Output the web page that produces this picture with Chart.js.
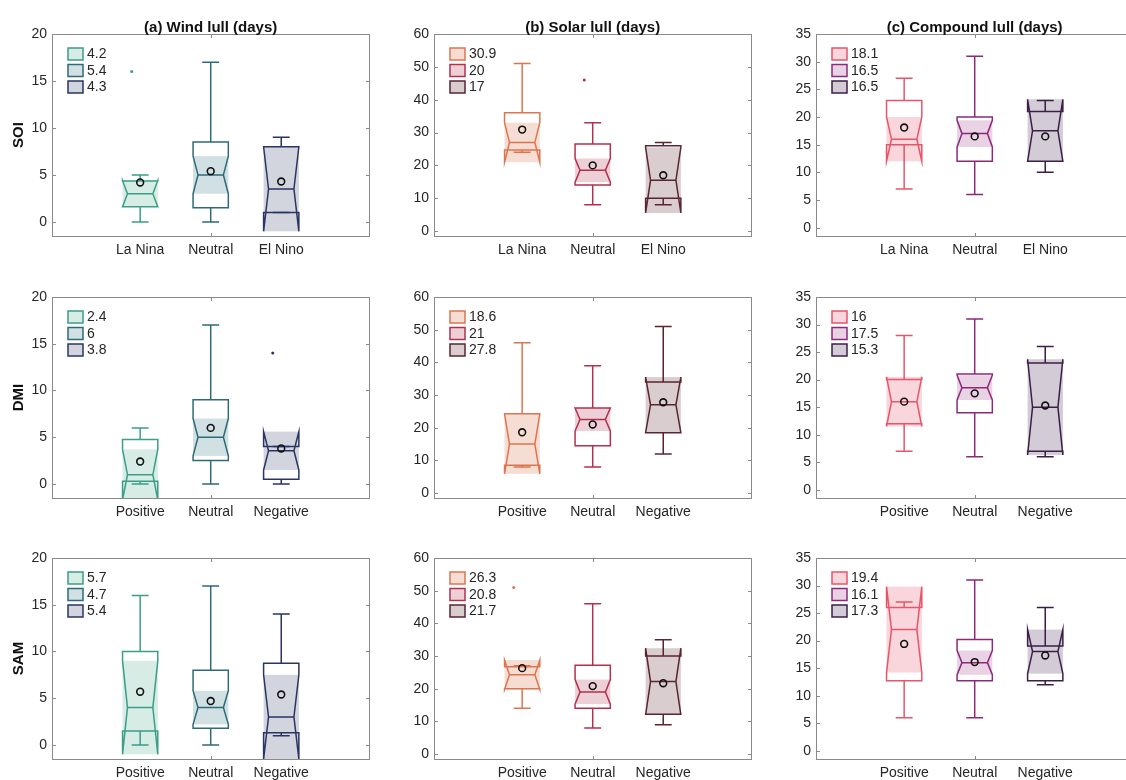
<!DOCTYPE html>
<html>
<head>
<meta charset="utf-8">
<script src="https://cdn.jsdelivr.net/npm/chart.js@4.4.1/dist/chart.umd.min.js"></script>
<style>
  html, body { margin: 0; padding: 0; background: #fff; overflow: hidden; width: 1126px; height: 780px; }
  canvas { position: absolute; }
</style>
</head>
<body>
<script>
// ---- categories and axis ticks ----
const ensoLabels = ['La Nina', 'Neutral', 'El Nino'];
const phaseLabels = ['Positive', 'Neutral', 'Negative'];
const windTicks = [0, 5, 10, 15, 20];
const solarTicks = [0, 10, 20, 30, 40, 50, 60];
const compoundTicks = [0, 5, 10, 15, 20, 25, 30, 35];
const xTickMarks = [2];

// ---- box statistics: [lower whisker, Q1, median, Q3, upper whisker] ----
// notch intervals: [low, high]; means; outliers per category

// SOI
const soiWindBox = [[0, 1.6, 3, 4.35, 5], [0, 1.5, 5, 8.5, 17], [1, 1, 3.5, 8, 9]];
const soiWindNotch = [[1.6, 4.4], [3, 7], [-1, 8]];
const soiWindMean = [4.2, 5.4, 4.3];
const soiWindOut = [[16], [], []];

const soiSolarBox = [[24, 24.7, 27, 36, 51], [8, 14, 18.5, 26.5, 33], [8, 10, 15.5, 26, 27]];
const soiSolarNotch = [[21, 33], [14.9, 22.1], [5.5, 25.5]];
const soiSolarMean = [30.9, 20, 17];
const soiSolarOut = [[], [46], []];

const soiCompBox = [[7, 15, 16, 23, 27], [6, 12, 17, 20, 31], [10, 12, 17.5, 21, 23]];
const soiCompNotch = [[12, 20], [14.6, 19.4], [12, 23.2]];
const soiCompMean = [18.1, 16.5, 16.5];
const soiCompOut = [[], [], []];

// DMI
const dmiWindBox = [[0, 0.3, 1, 4.75, 6], [0, 2.5, 5, 9, 17], [0, 0.5, 3.55, 4, 4]];
const dmiWindNotch = [[-1.7, 3.7], [3, 7], [1.5, 5.6]];
const dmiWindMean = [2.4, 6, 3.8];
const dmiWindOut = [[], [], [14]];

const dmiSolarBox = [[8, 8.5, 15, 24.3, 46], [8, 14.5, 22.5, 26, 39], [12, 18.5, 27, 34, 51]];
const dmiSolarNotch = [[5.9, 24.2], [19, 26], [18.5, 35.5]];
const dmiSolarMean = [18.6, 21, 27.8];
const dmiSolarOut = [[], [], []];

const dmiCompBox = [[7, 12, 16, 20, 28], [6, 14, 18.5, 21, 31], [6, 7, 15, 23, 26]];
const dmiCompNotch = [[11.5, 20.5], [16.3, 20.8], [6.3, 23.7]];
const dmiCompMean = [16, 17.5, 15.3];
const dmiCompOut = [[], [], []];

// SAM
const samWindBox = [[0, 1.5, 4, 10, 16], [0, 1.8, 4, 8, 17], [1, 1.3, 3, 8.75, 14]];
const samWindNotch = [[-1, 9], [2.2, 5.8], [-1.5, 7.5]];
const samWindMean = [5.7, 4.7, 5.4];
const samWindOut = [[], [], []];

const samSolarBox = [[14, 20, 24.3, 26.7, 27], [8, 14, 19, 27.2, 46], [9, 12.2, 22.2, 30, 35]];
const samSolarNotch = [[19.8, 28.8], [15.3, 22.8], [12, 32.4]];
const samSolarMean = [26.3, 20.8, 21.7];
const samSolarOut = [[51], [], []];

const samCompBox = [[6, 12.7, 22, 26, 27], [6, 12.7, 16, 20.2, 31], [12, 12.7, 18, 19, 26]];
const samCompNotch = [[14.2, 29.8], [13.8, 18.2], [14, 22]];
const samCompMean = [19.4, 16.1, 17.3];
const samCompOut = [[], [], []];

// ---- styling ----
const FONT = "'Liberation Sans', Arial, Helvetica, sans-serif";
const INK = '#262626';
const FRAME = '#8a8a8a';

const columns = [
  { title: '(a) Wind lull (days)', ticks: windTicks,
    edges: ['#3a9f86', '#2e6a78', '#2a3563'], fills: ['#d6ece5', '#d0e0e3', '#d2d4de'] },
  { title: '(b) Solar lull (days)', ticks: solarTicks,
    edges: ['#dd7550', '#b2304c', '#5a2430'], fills: ['#f6ddd3', '#edd0d7', '#d9cdcf'] },
  { title: '(c) Compound lull (days)', ticks: compoundTicks,
    edges: ['#e6566a', '#8c2a78', '#3b1f47'], fills: ['#f8d6db', '#e8d2e3', '#d3ccd6'] }
];

const rows = [
  { name: 'SOI', cats: ensoLabels, top: 34, height: 202,
    sets: [[soiWindBox, soiWindNotch, soiWindMean, soiWindOut],
           [soiSolarBox, soiSolarNotch, soiSolarMean, soiSolarOut],
           [soiCompBox, soiCompNotch, soiCompMean, soiCompOut]] },
  { name: 'DMI', cats: phaseLabels, top: 297, height: 201,
    sets: [[dmiWindBox, dmiWindNotch, dmiWindMean, dmiWindOut],
           [dmiSolarBox, dmiSolarNotch, dmiSolarMean, dmiSolarOut],
           [dmiCompBox, dmiCompNotch, dmiCompMean, dmiCompOut]] },
  { name: 'SAM', cats: phaseLabels, top: 558, height: 201,
    sets: [[samWindBox, samWindNotch, samWindMean, samWindOut],
           [samSolarBox, samSolarNotch, samSolarMean, samSolarOut],
           [samCompBox, samCompNotch, samCompMean, samCompOut]] }
];

const plotLefts = [52, 434, 816];
const PLOT_W = 321;
const AXIS_W = 52;     // room for y tick labels / title
const HEAD_H = 34;     // room above each plot (column titles)
const FOOT_H = 32;     // room for x tick labels
const BOX_HALF = 0.25; // half box width in category units
const CAP_HALF = 0.12;
const NOTCH_DEPTH = 0.14; // fraction of box width
const OUTLIER_SHIFT = 0.12;

function notchedBoxPlugin(p) {
  return {
    id: 'notchedBoxes',
    beforeDatasetsDraw(chart) {
      const { ctx, chartArea: ca, scales: { x, y } } = chart;
      ctx.save();
      ctx.beginPath();
      ctx.rect(ca.left, ca.top, ca.right - ca.left, ca.bottom - ca.top);
      ctx.clip();
      p.box.forEach((st, i) => {
        const c = i + 1;
        const [wl, q1, med, q3, wh] = st;
        const [nlo, nhi] = p.notch[i];
        const L = x.getPixelForValue(c - BOX_HALF);
        const R = x.getPixelForValue(c + BOX_HALF);
        const C = x.getPixelForValue(c);
        const d = (R - L) * NOTCH_DEPTH;
        const Y = v => y.getPixelForValue(v);
        // confidence band of the median
        ctx.fillStyle = p.fills[i];
        ctx.fillRect(L, Y(nhi), R - L, Y(nlo) - Y(nhi));
        ctx.strokeStyle = p.edges[i];
        ctx.lineWidth = 1.5;
        ctx.lineJoin = 'miter';
        // whiskers and caps
        const capL = x.getPixelForValue(c - CAP_HALF);
        const capR = x.getPixelForValue(c + CAP_HALF);
        ctx.beginPath();
        ctx.moveTo(C, Y(q3)); ctx.lineTo(C, Y(wh));
        ctx.moveTo(capL, Y(wh)); ctx.lineTo(capR, Y(wh));
        ctx.moveTo(C, Y(q1)); ctx.lineTo(C, Y(wl));
        ctx.moveTo(capL, Y(wl)); ctx.lineTo(capR, Y(wl));
        ctx.stroke();
        // notched box outline
        ctx.beginPath();
        ctx.moveTo(L, Y(q1));
        ctx.lineTo(L, Y(nlo));
        ctx.lineTo(L + d, Y(med));
        ctx.lineTo(L, Y(nhi));
        ctx.lineTo(L, Y(q3));
        ctx.lineTo(R, Y(q3));
        ctx.lineTo(R, Y(nhi));
        ctx.lineTo(R - d, Y(med));
        ctx.lineTo(R, Y(nlo));
        ctx.lineTo(R, Y(q1));
        ctx.closePath();
        ctx.stroke();
        // median
        ctx.beginPath();
        ctx.moveTo(L + d, Y(med)); ctx.lineTo(R - d, Y(med));
        ctx.stroke();
      });
      ctx.restore();
    },
    afterDatasetsDraw(chart) {
      const { ctx, chartArea: ca, scales: { x, y } } = chart;
      ctx.save();
      // axes frame
      ctx.strokeStyle = FRAME;
      ctx.lineWidth = 1;
      const l = Math.round(ca.left) + 0.5, r = Math.round(ca.right) + 0.5;
      const t = Math.round(ca.top) + 0.5, b = Math.round(ca.bottom) + 0.5;
      ctx.strokeRect(l, t, r - l, b - t);
      ctx.beginPath();
      p.yTicks.forEach(v => {
        const py = Math.round(y.getPixelForValue(v)) + 0.5;
        ctx.moveTo(l, py); ctx.lineTo(l + 3.5, py);
        ctx.moveTo(r, py); ctx.lineTo(r - 3.5, py);
      });
      xTickMarks.forEach(v => {
        const px = Math.round(x.getPixelForValue(v)) + 0.5;
        ctx.moveTo(px, b); ctx.lineTo(px, b - 3.5);
        ctx.moveTo(px, t); ctx.lineTo(px, t + 3.5);
      });
      ctx.stroke();
      // legend of category means
      const lx = ca.left + 16;
      p.mean.forEach((m, i) => {
        const ly = ca.top + 14 + i * 16.5;
        ctx.fillStyle = p.fills[i];
        ctx.fillRect(lx, ly, 15, 12);
        ctx.strokeStyle = p.edges[i];
        ctx.lineWidth = 1.5;
        ctx.strokeRect(lx, ly, 15, 12);
        ctx.fillStyle = INK;
        ctx.font = '14px ' + FONT;
        ctx.textAlign = 'left';
        ctx.textBaseline = 'middle';
        ctx.fillText(String(m), lx + 19, ly + 6.5);
      });
      // column title
      if (p.title) {
        ctx.fillStyle = '#111';
        ctx.font = 'bold 15px ' + FONT;
        ctx.textAlign = 'center';
        ctx.textBaseline = 'middle';
        ctx.fillText(p.title, (ca.left + ca.right) / 2, ca.top - 6.5);
      }
      ctx.restore();
    }
  };
}

function makePanel(r, c) {
  const row = rows[r], col = columns[c];
  const [box, notch, mean, out] = row.sets[c];
  const p = {
    box, notch, mean, out,
    edges: col.edges, fills: col.fills, yTicks: col.ticks,
    title: r === 0 ? col.title : null
  };
  const canvas = document.createElement('canvas');
  const w = AXIS_W + PLOT_W + 2;
  const h = HEAD_H + row.height + FOOT_H;
  canvas.width = w; canvas.height = h;
  canvas.style.width = w + 'px'; canvas.style.height = h + 'px';
  canvas.style.left = (plotLefts[c] - AXIS_W) + 'px';
  canvas.style.top = (row.top - HEAD_H) + 'px';
  document.body.appendChild(canvas);

  const meanPoints = mean.map((m, i) => ({ x: i + 1, y: m }));
  const outPoints = [], outColors = [];
  out.forEach((vals, i) => vals.forEach(v => {
    outPoints.push({ x: i + 1 - OUTLIER_SHIFT, y: v });
    outColors.push(col.edges[i]);
  }));
  const yMax = col.ticks[col.ticks.length - 1];

  new Chart(canvas, {
    type: 'scatter',
    data: {
      datasets: [
        { label: 'mean', data: meanPoints, pointStyle: 'circle', pointRadius: 3.4,
          borderColor: '#111', backgroundColor: 'rgba(0,0,0,0)', pointBorderWidth: 1.6 },
        { label: 'outliers', data: outPoints, pointRadius: 1.5, pointBorderWidth: 0,
          pointBackgroundColor: outColors, borderColor: outColors }
      ]
    },
    options: {
      responsive: false,
      animation: false,
      devicePixelRatio: 1,
      layout: { padding: { top: HEAD_H, right: 2, left: 0, bottom: 0 } },
      plugins: { legend: { display: false }, tooltip: { enabled: false } },
      scales: {
        x: {
          type: 'linear', position: 'bottom', min: -0.25, max: 4.25,
          afterBuildTicks: s => { s.ticks = row.cats.map((_, i) => ({ value: i + 1 })); },
          afterFit: s => { s.height = FOOT_H; },
          grid: { display: false, drawTicks: false, tickLength: 0 }, border: { display: false },
          ticks: { autoSkip: false, maxRotation: 0, padding: 6, color: INK,
                   font: { family: FONT, size: 14 },
                   callback: v => row.cats[Math.round(v) - 1] }
        },
        y: {
          type: 'linear', min: -1.5, max: yMax,
          afterBuildTicks: s => { s.ticks = col.ticks.map(v => ({ value: v })); },
          afterFit: s => { s.width = AXIS_W; },
          grid: { display: false, drawTicks: false, tickLength: 0 }, border: { display: false },
          ticks: { padding: 5, color: INK, font: { family: FONT, size: 14 } },
          title: { display: c === 0, text: row.name, color: '#111',
                   font: { family: FONT, size: 15, weight: 'bold' },
                   padding: { top: 10, bottom: 0 } }
        }
      }
    },
    plugins: [notchedBoxPlugin(p)]
  });
}

for (let r = 0; r < 3; r++) for (let c = 0; c < 3; c++) makePanel(r, c);
</script>
</body>
</html>
